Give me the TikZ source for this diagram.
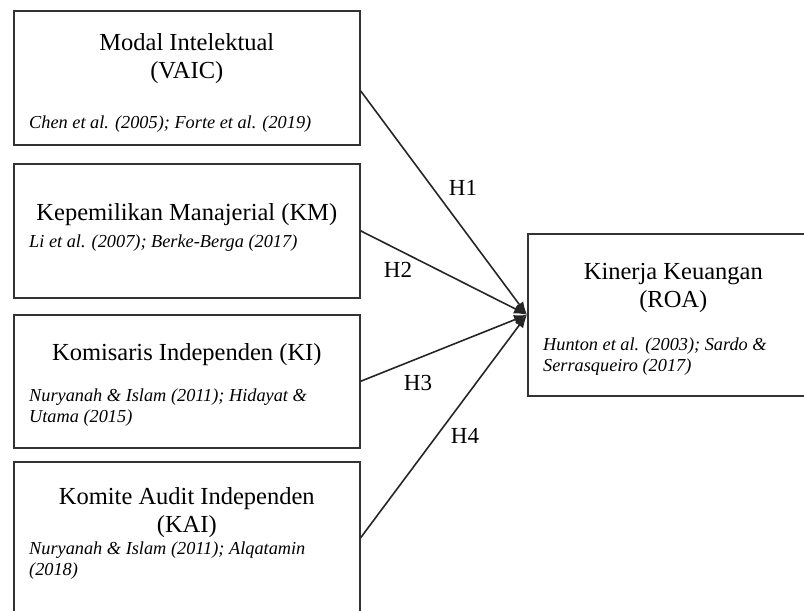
\documentclass[tikz,border=0pt]{standalone}
\usepackage{fontspec}
\setmainfont{Liberation Serif}
\usetikzlibrary{arrows.meta,positioning}

\begin{document}
\begin{tikzpicture}[
  x=1pt, y=-1pt,
  box/.style={draw=black!80, line width=1.6pt, minimum width=346pt, minimum height=134pt, anchor=north west, inner sep=0pt},
  ttl/.style={align=center, font=\fontsize{24.5}{28}\selectfont, inner sep=0pt, anchor=base},
  ref/.style={align=left, font=\fontsize{18.3}{21}\selectfont\itshape, inner sep=0pt, anchor=base west},
  hyp/.style={font=\fontsize{23}{28}\selectfont, inner sep=0pt},
  arr/.style={-{Latex[length=13pt,width=10pt]}, line width=1.6pt, draw=black!85}
]
  \useasboundingbox (0,0) rectangle (804,611);
  \clip (0,0) rectangle (804,611);

  % independent variables
  \node[box] (vaic) at (13,10) {};
  \node[box] (km) at (13,163) {};
  \node[box, minimum height=133pt] (ki) at (13,314) {};
  \node[box, minimum height=152pt] (kai) at (13,461) {};

  % dependent variable
  \node[box, minimum width=291pt, minimum height=162pt] (roa) at (527,233) {};

  \node[below=68pt of vaic.north, ttl] (vaic-t) {Modal Intelektual\\(VAIC)};
  \node[below right=118pt and 16pt of vaic.north west, ref] (vaic-r) {Chen et al. (2005); Forte et al. (2019)};

  \node[below=57pt of km.north, ttl] (km-t) {Kepemilikan Manajerial (KM)};
  \node[below right=84pt and 16pt of km.north west, ref] (km-r) {Li et al. (2007); Berke-Berga (2017)};

  \node[below=46pt of ki.north, ttl] (ki-t) {Komisaris Independen (KI)};
  \node[below right=108pt and 16pt of ki.north west, ref] (ki-r) {Nuryanah \& Islam (2011); Hidayat \&\\Utama (2015)};

  \node[below=71pt of kai.north, ttl] (kai-t) {Komite Audit Independen\\(KAI)};
  \node[below right=114pt and 16pt of kai.north west, ref] (kai-r) {Nuryanah \& Islam (2011); Alqatamin\\(2018)};

  \node[below=74pt of roa.north, ttl] (roa-t) {Kinerja Keuangan\\(ROA)};
  \node[below right=138pt and 16pt of roa.north west, ref] (roa-r) {Hunton et al. (2003); Sardo \&\\Serrasqueiro (2017)};

  % hypotheses
  \draw[arr] ([yshift=-13pt]vaic.east) -- (roa.west);
  \draw[arr] (km.east) -- (roa.west);
  \draw[arr] (ki.east) -- (roa.west);
  \draw[arr] (kai.east) -- (roa.west);

  \node[hyp] (h1) at (463,188) {H1};
  \node[hyp] (h2) at (398,270) {H2};
  \node[hyp] (h3) at (418,383) {H3};
  \node[hyp] (h4) at (465,436) {H4};
\end{tikzpicture}
\end{document}
